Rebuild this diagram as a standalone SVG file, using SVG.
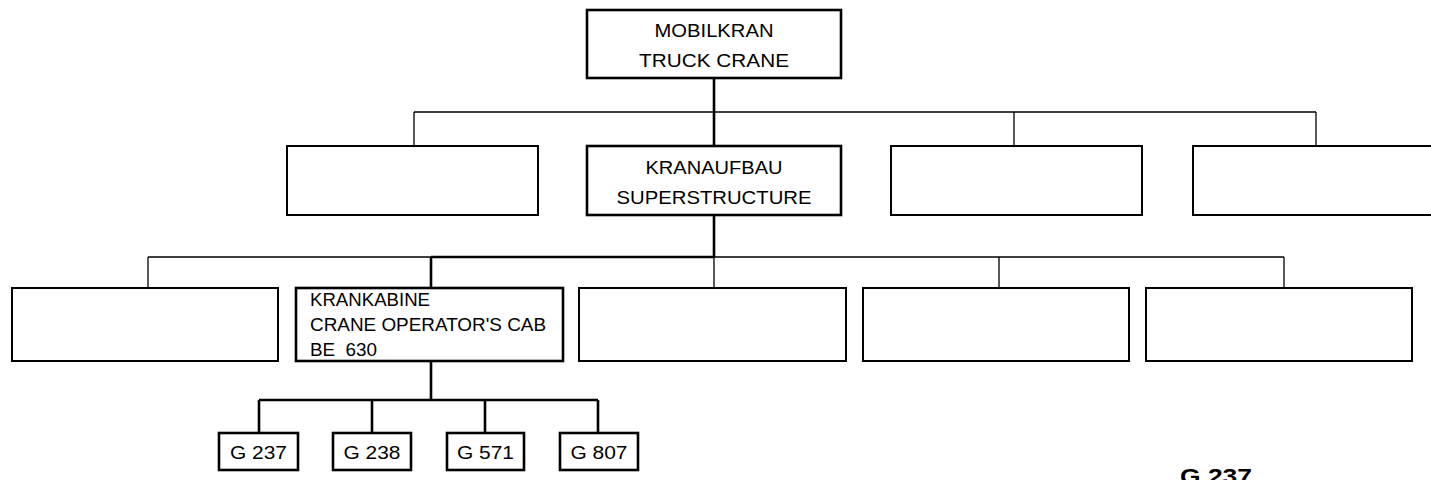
<svg xmlns="http://www.w3.org/2000/svg" width="1431" height="480" viewBox="0 0 1431 480">
<style>
.bx{fill:#fff;stroke:#000;stroke-width:2}
.bxk{fill:#fff;stroke:#000;stroke-width:2.6}
.thin{fill:none;stroke:#000;stroke-width:1.3}
.thick{fill:none;stroke:#000;stroke-width:2.6}
text{font-family:"Liberation Sans",Arial,sans-serif;fill:#000;white-space:pre}
.t{font-size:18px}
.c{text-anchor:middle}
.g{font-size:19px;text-anchor:middle}
.big{font-size:22px;font-weight:bold}
</style>
<g id="connectors">
<path class="thin" d="M414 112H1316M414 112V146M1014 112V146M1316 112V146"/>
<path class="thick" d="M714 78V146M714 215V257"/>
<path class="thin" d="M148 257H1284M148 257V288M714 257V288M999 257V288M1284 257V288"/>
<path class="thick" d="M431 257H714M431 257V288M431 361V400M259 400H598M259 400V433M372 400V433M485 400V433M598 400V433"/>
</g>
<g id="n-mobilkran">
<rect class="bxk" x="587" y="10" width="254" height="68"/>
<text class="t c" x="714" y="37" textLength="119" lengthAdjust="spacingAndGlyphs">MOBILKRAN</text>
<text class="t c" x="714" y="67" textLength="150" lengthAdjust="spacingAndGlyphs">TRUCK CRANE</text>
</g>
<g id="n-l1a"><rect class="bx" x="287" y="146" width="251" height="69"/></g>
<g id="n-kranaufbau">
<rect class="bxk" x="587" y="146" width="254" height="69"/>
<text class="t c" x="714" y="174" textLength="137" lengthAdjust="spacingAndGlyphs">KRANAUFBAU</text>
<text class="t c" x="714" y="204" textLength="195" lengthAdjust="spacingAndGlyphs">SUPERSTRUCTURE</text>
</g>
<g id="n-l1c"><rect class="bx" x="891" y="146" width="251" height="69"/></g>
<g id="n-l1d"><path class="bx" d="M1436 146H1193V215H1436"/></g>
<g id="n-l2a"><rect class="bx" x="12" y="288" width="266" height="73"/></g>
<g id="n-krankabine">
<rect class="bxk" x="296" y="288" width="267" height="73"/>
<text class="t" x="310" y="306" textLength="120" lengthAdjust="spacingAndGlyphs">KRANKABINE</text>
<text class="t" x="310" y="331" textLength="236" lengthAdjust="spacingAndGlyphs">CRANE OPERATOR'S CAB</text>
<text class="t" x="310" y="356" textLength="67" lengthAdjust="spacingAndGlyphs" xml:space="preserve">BE  630</text>
</g>
<g id="n-l2c"><rect class="bx" x="579" y="288" width="267" height="73"/></g>
<g id="n-l2d"><rect class="bx" x="863" y="288" width="266" height="73"/></g>
<g id="n-l2e"><rect class="bx" x="1146" y="288" width="266" height="73"/></g>
<g id="n-g237"><rect class="bxk" x="219" y="433" width="79" height="37"/><text class="g" x="258.5" y="459" textLength="57" lengthAdjust="spacingAndGlyphs">G 237</text></g>
<g id="n-g238"><rect class="bxk" x="333" y="433" width="78" height="37"/><text class="g" x="372" y="459" textLength="57" lengthAdjust="spacingAndGlyphs">G 238</text></g>
<g id="n-g571"><rect class="bxk" x="447" y="433" width="77" height="37"/><text class="g" x="485.5" y="459" textLength="57" lengthAdjust="spacingAndGlyphs">G 571</text></g>
<g id="n-g807"><rect class="bxk" x="560" y="433" width="78" height="37"/><text class="g" x="599" y="459" textLength="57" lengthAdjust="spacingAndGlyphs">G 807</text></g>
<text class="big" x="1180" y="484" textLength="72" lengthAdjust="spacingAndGlyphs">G 237</text>
</svg>
